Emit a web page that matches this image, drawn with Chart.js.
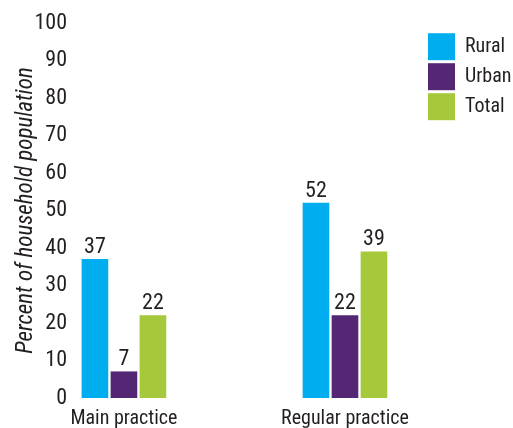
<!DOCTYPE html>
<html>
<head>
<meta charset="utf-8">
<script src="https://cdn.jsdelivr.net/npm/chart.js@4"></script>
<style>
  html, body { margin: 0; padding: 0; background: #fff; }
  #wrap { width: 513px; height: 428px; }
</style>
</head>
<body>
<div id="wrap"><canvas id="myChart" width="513" height="428"></canvas></div>
<script>
const categorias = ["Main practice", "Regular practice"];
const rural = [37, 52];
const urban = [7, 22];
const total = [22, 39];
const yTicks = [0, 10, 20, 30, 40, 50, 60, 70, 80, 90, 100];

const fuente = "'Liberation Sans Narrow', 'Roboto Condensed', 'DejaVu Sans Condensed', sans-serif";
const textoColor = "#231f20";

const toPoints = arr => arr.map((v, i) => ({ x: i, y: v }));

// etiquetas de valor encima de cada barra
const valueLabels = {
  id: "valueLabels",
  afterDatasetsDraw(chart) {
    const ctx = chart.ctx;
    ctx.save();
    ctx.font = "22px " + fuente;
    ctx.fillStyle = textoColor;
    ctx.textAlign = "center";
    ctx.textBaseline = "bottom";
    chart.data.datasets.forEach((ds, di) => {
      chart.getDatasetMeta(di).data.forEach((bar, i) => {
        ctx.fillText(ds.data[i].y, bar.x, bar.y - 1);
      });
    });
    ctx.restore();
  }
};

new Chart(document.getElementById("myChart"), {
  type: "bar",
  data: {
    datasets: [
      { label: "Rural", data: toPoints(rural), backgroundColor: "#00aeef" },
      { label: "Urban", data: toPoints(urban), backgroundColor: "#532773" },
      { label: "Total", data: toPoints(total), backgroundColor: "#a5c93a" }
    ]
  },
  options: {
    responsive: false,
    animation: false,
    barThickness: 29,
    maxBarThickness: 26,
    layout: { padding: { top: 23, right: 0, left: 0, bottom: 0 } },
    scales: {
      x: {
        type: "linear",
        min: -0.244,
        max: 1.362,
        offset: false,
        grid: { display: false, drawTicks: false, offset: false },
        border: { display: false },
        afterBuildTicks: s => { s.ticks = categorias.map((c, i) => ({ value: i })); },
        afterFit: s => { s.height = 30; },
        ticks: {
          callback: v => categorias[v],
          font: { size: 20, family: fuente },
          color: textoColor,
          padding: 9,
          maxRotation: 0,
          autoSkip: false
        }
      },
      y: {
        min: 0,
        max: 100,
        grid: { display: false, drawTicks: false },
        border: { display: false },
        afterBuildTicks: s => { s.ticks = yTicks.map(v => ({ value: v })); },
        afterFit: s => { s.width = 70; },
        ticks: {
          font: { size: 22, family: fuente },
          color: textoColor,
          padding: 3
        },
        title: {
          display: true,
          text: "Percent of household population",
          font: { size: 23, family: fuente, style: "italic" },
          color: textoColor,
          padding: { top: 12, bottom: 0 }
        }
      }
    },
    plugins: {
      tooltip: { enabled: false },
      legend: {
        position: "right",
        align: "start",
        fullSize: false,
        maxWidth: 88,
        title: { display: true, text: "", font: { size: 1 }, padding: { top: 0, bottom: 6 } },
        labels: {
          boxWidth: 27,
          boxHeight: 27,
          padding: 3,
          color: textoColor,
          font: { size: 20, family: fuente }
        }
      }
    }
  },
  plugins: [valueLabels]
});
</script>
</body>
</html>
